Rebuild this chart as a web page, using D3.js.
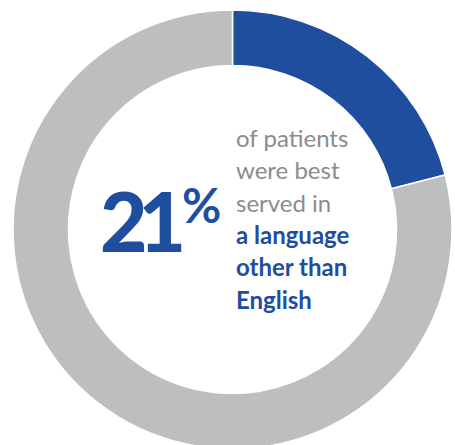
<html>
  <head>
    <style>
      body { margin: 0; background: #fff; }
      .label { font-family: "Lato", sans-serif; font-size: 24px; }
    </style>
  </head>
  <body>
    <svg></svg>
    <script src="https://d3js.org/d3.v7.min.js"></script>
    <script>
      let width = 455,
        height = 445;

      // share of patients
      let categories = ["Other than English", "English"];
      let values = [21, 79];
      let colors = ["#1f4e9f", "#bdbec0"];

      let bigNumber = "21";
      let lines = [
        { text: "of patients", bold: false },
        { text: "were best", bold: false },
        { text: "served in", bold: false },
        { text: "a language", bold: true },
        { text: "other than", bold: true },
        { text: "English", bold: true },
      ];

      let svg = d3.select("svg").attr("width", width).attr("height", height);

      let cx = 232.5,
        cy = 229.5;

      let pie = d3.pie().sort(null).value((d) => d);
      let arc = d3.arc().innerRadius(164).outerRadius(219.5);

      let g = svg.append("g").attr("transform", "translate(" + cx + "," + cy + ")");

      g.selectAll("path")
        .data(pie(values))
        .enter()
        .append("path")
        .attr("d", arc)
        .attr("fill", (d, i) => colors[i])
        .attr("stroke", "#fff")
        .attr("stroke-width", 1.5);

      // big percentage
      svg
        .append("text")
        .attr("x", 100)
        .attr("y", 252)
        .attr("font-family", "Lato, sans-serif")
        .attr("font-weight", 900)
        .attr("font-size", 82)
        .attr("letter-spacing", -9)
        .attr("fill", colors[0])
        .text(bigNumber);

      svg
        .append("text")
        .attr("x", 182)
        .attr("y", 223)
        .attr("font-family", "Lato, sans-serif")
        .attr("font-weight", 700)
        .attr("font-size", 48)
        .attr("fill", colors[0])
        .text("%");

      svg
        .append("g")
        .selectAll("text")
        .data(lines)
        .enter()
        .append("text")
        .attr("class", "label")
        .attr("x", 236)
        .attr("y", (d, i) => 147 + i * 32.3)
        .attr("font-weight", (d) => (d.bold ? 700 : 400))
        .attr("fill", (d) => (d.bold ? colors[0] : "#8c8c8c"))
        .text((d) => d.text);
    </script>
  </body>
</html>
